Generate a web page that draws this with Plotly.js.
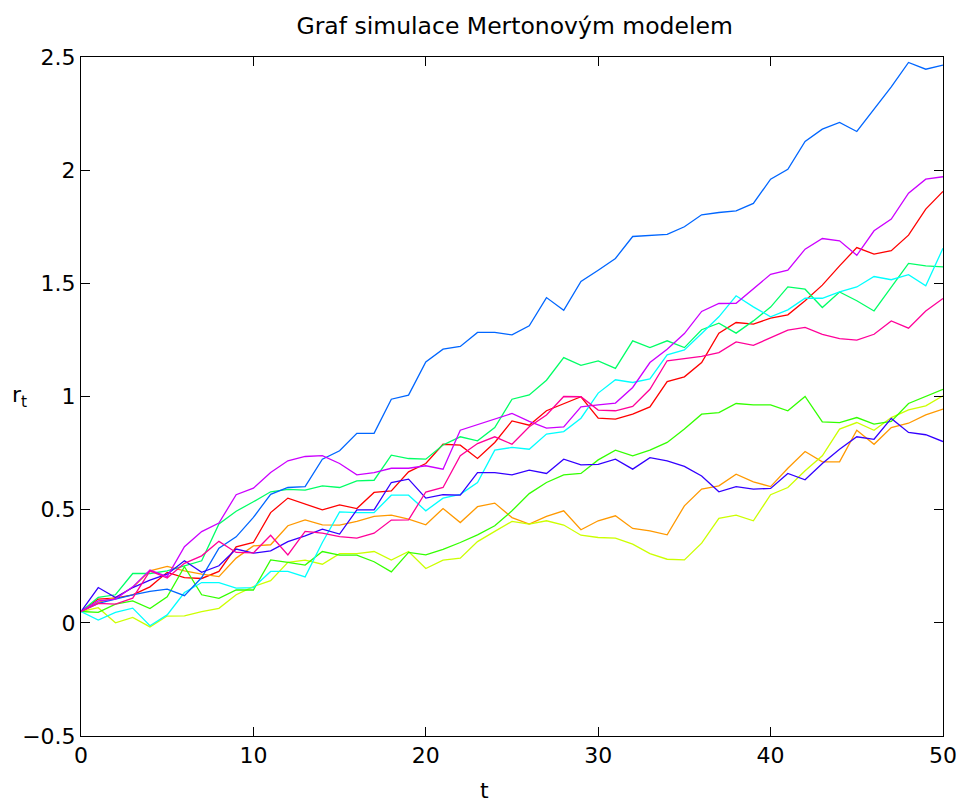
<!DOCTYPE html>
<html>
<head>
<meta charset="utf-8">
<script src="https://cdn.plot.ly/plotly-3.0.1.min.js"></script>
<style>html,body{margin:0;padding:0;background:#fff;}#chart{width:962px;height:803px;}</style>
</head>
<body>
<div id="chart"></div>
<script>
const t = Array.from({length: 51}, (_, i) => i);

const red = [0.05,0.105,0.109,0.124,0.159,0.223,0.2,0.196,0.227,0.336,0.355,
  0.487,0.551,0.524,0.499,0.521,0.505,0.576,0.583,0.667,0.704,
  0.789,0.785,0.726,0.797,0.892,0.873,0.937,0.969,0.999,0.904,
  0.9,0.922,0.954,1.066,1.087,1.15,1.28,1.327,1.32,1.346,
  1.361,1.423,1.492,1.577,1.658,1.629,1.644,1.713,1.828,1.906];
const orange = [0.05,0.09,0.112,0.156,0.23,0.249,0.23,0.215,0.204,0.286,0.34,
  0.345,0.429,0.455,0.433,0.432,0.448,0.47,0.476,0.458,0.433,
  0.505,0.443,0.513,0.529,0.465,0.436,0.47,0.495,0.411,0.451,
  0.473,0.417,0.406,0.389,0.517,0.591,0.605,0.657,0.623,0.602,
  0.683,0.757,0.711,0.711,0.851,0.789,0.863,0.882,0.919,0.944];
const yellow = [0.05,0.067,0.0,0.024,-0.018,0.03,0.031,0.05,0.064,0.124,0.16,
  0.186,0.267,0.277,0.259,0.306,0.306,0.315,0.277,0.315,0.24,
  0.277,0.286,0.359,0.404,0.448,0.436,0.451,0.432,0.387,0.377,
  0.374,0.348,0.306,0.281,0.278,0.352,0.462,0.476,0.451,0.566,
  0.598,0.672,0.738,0.856,0.885,0.851,0.907,0.941,0.959,1.003];
const green = [0.05,0.046,0.083,0.097,0.063,0.115,0.248,0.124,0.108,0.145,0.145,
  0.278,0.267,0.255,0.315,0.299,0.299,0.27,0.225,0.311,0.3,
  0.325,0.355,0.389,0.429,0.495,0.571,0.62,0.654,0.66,0.72,
  0.763,0.738,0.763,0.797,0.856,0.922,0.929,0.969,0.963,0.963,
  0.937,1.0,0.888,0.885,0.907,0.878,0.89,0.969,1.0,1.032];
const springGreen = [0.05,0.112,0.124,0.218,0.218,0.23,0.252,0.274,0.437,0.493,0.535,
  0.579,0.59,0.586,0.605,0.598,0.627,0.63,0.741,0.726,0.723,
  0.786,0.822,0.804,0.863,0.988,1.007,1.072,1.172,1.138,1.157,
  1.124,1.246,1.216,1.246,1.216,1.295,1.324,1.28,1.334,1.395,
  1.484,1.474,1.393,1.462,1.423,1.378,1.482,1.588,1.577,1.573];
const cyan = [0.05,0.012,0.046,0.065,-0.013,0.035,0.134,0.178,0.178,0.153,0.156,
  0.227,0.227,0.203,0.355,0.49,0.487,0.487,0.564,0.564,0.495,
  0.551,0.568,0.62,0.763,0.775,0.767,0.834,0.845,0.904,1.015,
  1.074,1.062,1.078,1.184,1.206,1.278,1.352,1.445,1.396,1.352,
  1.383,1.434,1.434,1.462,1.484,1.53,1.516,1.538,1.489,1.655];
const blue = [0.05,0.086,0.105,0.124,0.139,0.149,0.12,0.2,0.33,0.38,0.466,
  0.568,0.598,0.602,0.723,0.76,0.837,0.837,0.988,1.006,1.153,
  1.209,1.221,1.283,1.283,1.272,1.312,1.437,1.381,1.508,1.558,
  1.61,1.707,1.711,1.716,1.75,1.803,1.813,1.82,1.853,1.96,
  2.004,2.127,2.181,2.211,2.171,2.27,2.368,2.476,2.446,2.464];
const indigo = [0.05,0.156,0.112,0.156,0.189,0.215,0.274,0.223,0.252,0.326,0.308,
  0.318,0.359,0.384,0.414,0.392,0.499,0.499,0.62,0.635,0.551,
  0.566,0.564,0.664,0.664,0.654,0.675,0.66,0.723,0.698,0.70,
  0.723,0.679,0.73,0.716,0.691,0.649,0.579,0.602,0.591,0.594,
  0.66,0.632,0.704,0.767,0.822,0.811,0.903,0.841,0.831,0.801];
const violet = [0.05,0.097,0.105,0.159,0.233,0.204,0.336,0.403,0.441,0.566,0.595,
  0.664,0.716,0.735,0.739,0.704,0.654,0.664,0.683,0.683,0.694,
  0.679,0.851,0.875,0.9,0.925,0.89,0.86,0.866,0.954,0.963,
  0.971,1.04,1.15,1.209,1.278,1.376,1.411,1.412,1.474,1.54,
  1.558,1.651,1.698,1.688,1.624,1.732,1.784,1.898,1.96,1.971];
const pink = [0.05,0.086,0.083,0.109,0.23,0.198,0.263,0.296,0.36,0.311,0.309,
  0.387,0.3,0.404,0.396,0.381,0.374,0.396,0.454,0.455,0.578,
  0.598,0.738,0.792,0.822,0.789,0.866,0.918,1.0,0.999,0.94,
  0.937,0.956,1.032,1.158,1.169,1.177,1.194,1.241,1.226,1.258,
  1.293,1.305,1.275,1.256,1.249,1.275,1.334,1.302,1.378,1.433];

const series = [red, orange, yellow, green, springGreen, cyan, blue, indigo, violet, pink];
const colors = ['#ff0000','#ff9900','#ccff00','#33ff00','#00ff66','#00ffff','#0066ff','#3300ff','#cc00ff','#ff0099'];

const xTicks = [0,10,20,30,40,50];
const yTicks = [-0.5,0,0.5,1,1.5,2,2.5];
const yTickText = ['\u22120.5','0','0.5','1','1.5','2','2.5'];

const traces = series.map((s, i) => ({
  x: t, y: s, type: 'scatter', mode: 'lines',
  line: {color: colors[i], width: 1.3},
  hoverinfo: 'skip', showlegend: false
}));

const fam = 'DejaVu Sans, Liberation Sans, Arial, sans-serif';
const font = {family: fam, size: 22, color: '#000'};

const layout = {
  width: 962, height: 803,
  margin: {l: 81, r: 19, t: 57, b: 67},
  paper_bgcolor: '#fff', plot_bgcolor: '#fff',
  font: font,
  title: {text: 'Graf simulace Mertonovým modelem', font: {family: fam, size: 23.5, color: '#000'}, x: 0.535, xanchor: 'center', y: 0.968, yanchor: 'middle'},
  xaxis: {
    range: [0, 50], tickvals: xTicks, ticktext: xTicks.map(String),
    ticks: 'inside', ticklen: 9, tickwidth: 1, tickcolor: '#000',
    showline: true, linecolor: '#000', linewidth: 1, mirror: 'ticks',
    showgrid: false, zeroline: false,
    tickfont: font
  },
  yaxis: {
    range: [-0.5, 2.5], tickvals: yTicks, ticktext: yTickText,
    ticks: 'inside', ticklen: 9, tickwidth: 1, tickcolor: '#000',
    showline: true, linecolor: '#000', linewidth: 1, mirror: 'ticks',
    showgrid: false, zeroline: false,
    tickfont: font
  },
  annotations: [{
    text: 'r<sub>t</sub>', xref: 'paper', yref: 'paper',
    x: -0.071, y: 0.5, xanchor: 'center', yanchor: 'middle',
    showarrow: false, font: font
  }, {
    text: 't', xref: 'paper', yref: 'paper',
    x: 0.468, y: -0.08, xanchor: 'center', yanchor: 'middle',
    showarrow: false, font: font
  }]
};

Plotly.newPlot('chart', traces, layout, {displayModeBar: false, staticPlot: true});
</script>
</body>
</html>
